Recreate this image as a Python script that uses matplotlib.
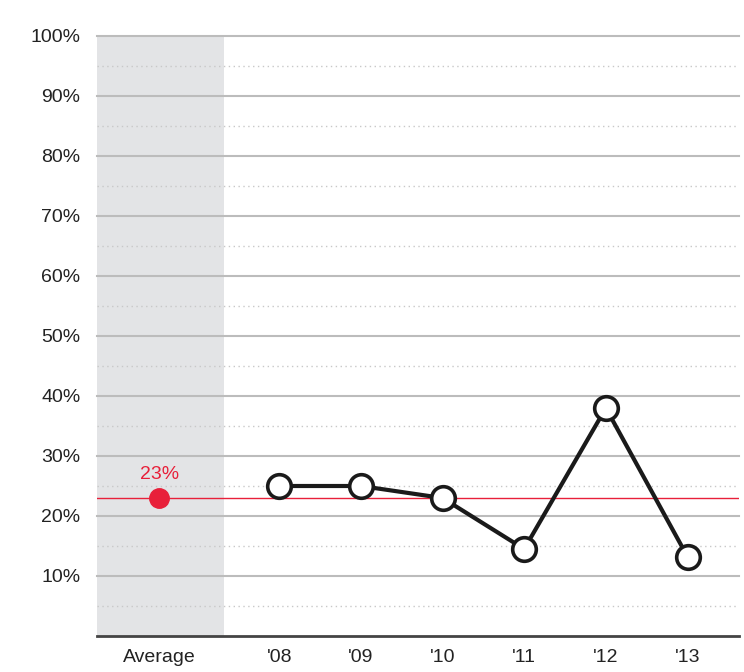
import matplotlib.pyplot as plt
import numpy as np

# Chart data
categories = ["Average", "'08", "'09", "'10", "'11", "'12", "'13"]
positions = [0, 1.47, 2.47, 3.47, 4.47, 5.47, 6.47]
years = ["'08", "'09", "'10", "'11", "'12", "'13"]
values = [25, 25, 23, 14.5, 38, 13.2]
average = 23

red = '#e8203a'
plt.rcParams['font.family'] = ['Liberation Sans', 'DejaVu Sans']

fig = plt.figure(figsize=(7.44, 6.72), dpi=100)
ax = fig.add_axes([97 / 744, 36 / 672, 642 / 744, 600 / 672])

ax.set_xlim(-0.76, 7.1)
ax.set_ylim(0, 100)

# gray band behind the average column
ax.axvspan(-0.76, 0.8, color='#e3e4e6', zorder=0, lw=0)

# grid lines
for y in range(10, 101, 10):
    ax.axhline(y, color='#bcbcbc', lw=1.5, zorder=1, clip_on=False)
for y in range(5, 100, 10):
    ax.axhline(y, color='#c8c8c8', lw=1.0, ls=(0, (1, 2.5)), zorder=1)

# average line and dot
ax.axhline(average, color=red, lw=1.0, zorder=2)
ax.plot(positions[0], average, 'o', ms=14, color=red, zorder=4)
ax.text(positions[0], average + 2.5, f'{average}%', color=red, fontsize=14,
        ha='center', va='bottom')

# yearly line
ax.plot(positions[1:], values, color='#1a1a1a', lw=3, marker='o', ms=17,
        mfc='white', mec='#1a1a1a', mew=2.6, zorder=5)

for s in ['top', 'right', 'left']:
    ax.spines[s].set_visible(False)
ax.spines['bottom'].set_color('#444444')
ax.spines['bottom'].set_linewidth(2)

ax.set_yticks(range(10, 101, 10))
ax.set_yticklabels([f'{y}%' for y in range(10, 101, 10)])
ax.set_xticks(positions)
ax.set_xticklabels(categories)
ax.tick_params(axis='both', length=0, labelsize=14, colors='#222222')
ax.tick_params(axis='y', pad=12)
ax.tick_params(axis='x', pad=9)

fig.savefig('out.png', dpi=100)
